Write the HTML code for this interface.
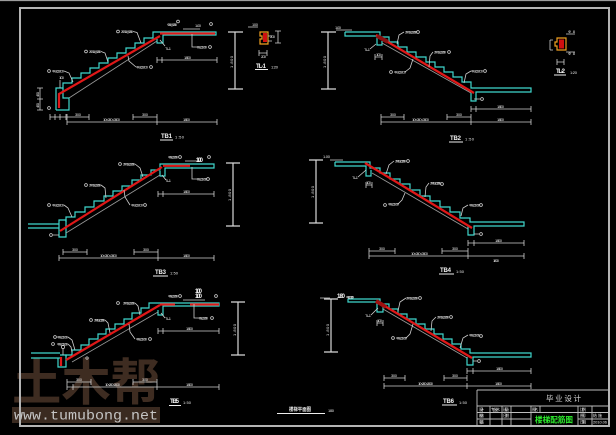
<!DOCTYPE html>
<html><head><meta charset="utf-8">
<style>
html,body{margin:0;padding:0;background:#000;}
svg{display:block}
.c{fill:none;stroke:#3fd6cc;stroke-width:1.2}
.r{fill:none;stroke:#e01818;stroke-width:2.2}
.g{fill:none;stroke:#9a9a9a;stroke-width:0.8}
.d{fill:none;stroke:#cfcfcf;stroke-width:0.8}
.e{fill:none;stroke:#d8d8d8;stroke-width:1.2}
.lc{fill:none;stroke:#dddddd;stroke-width:0.7}
.t{font-family:"Liberation Sans",sans-serif;font-size:4px;fill:#e6e6e6}
.ti{font-family:"Liberation Sans",sans-serif;font-size:6px;fill:#f4f4f4;font-weight:bold}
.o{fill:none;stroke:#f0a020;stroke-width:1.2}
</style></head><body>
<svg width="616" height="435" viewBox="0 0 616 435" xmlns="http://www.w3.org/2000/svg">
<rect width="616" height="435" fill="#000"/>

<!-- watermark -->
<text x="12" y="400" font-family="'Liberation Sans','Noto Sans CJK SC',sans-serif" font-weight="bold" font-size="50" fill="#3e2c21" textLength="148" lengthAdjust="spacingAndGlyphs">土木帮</text>
<rect x="12" y="407" width="148" height="16" fill="#3a2a20"/>
<text x="14" y="419.5" font-family="'Liberation Mono',monospace" font-size="14" fill="#c4c4c4" textLength="144" lengthAdjust="spacingAndGlyphs">www.tumubong.net</text>

<!-- frame -->
<line x1="0" y1="0.5" x2="616" y2="0.5" stroke="#9c9c9c" stroke-width="1.2"/>
<rect x="20" y="8" width="589" height="418" fill="none" stroke="#b4b4b4" stroke-width="2"/>

<!-- ================= TB1 ================= -->
<path class="c" d="M56,110 V88 H63 V83 H72 V78 H81 V73 H90 V68 H99 V63 H108 V58 H117 V53 H126 V48 H135 V43 H144 V38 H153 V32 H216 V35 H163 V43 H157 V39"/>
<path class="c" d="M63,88 V98 H69 V110 H56"/>
<path class="g" d="M69,98 L157,41"/>
<path class="r" d="M59,108 V94 L160,36"/>
<path class="r" d="M160,33.5 H215" stroke-width="2"/>
<path class="d" d="M50,117 H66 M50,114 V120 M55,114 V120 M60,114 V120 M66,114 V120 M67,117 H89 M67,114 V120 M89,114 V120 M133,117 H157 M133,114 V120 M157,114 V120 M67,122 H217 M67,119 V125 M157,119 V125 M217,119 V125 M157,60 H217 M157,57 V63 M162,57 V63 M217,57 V63 M40,88 V110 M37,88 H43 M37,99 H43 M37,110 H43"/>
<path class="e" d="M235,32 V89 M228,32 H243 M228,89 H243"/>
<path class="d" d="M133,31.5 L137,32.5 L141,43 M101,51.5 L105,53 L108,62 M64,71 L69,73 L73,82 M136,67 L129,61 L128,56 M183,29 H200 M192,34 V47 H196 M160,40 L165,46 M60,80 V88"/>
<g class="lc"><circle cx="118" cy="31.5" r="1.4"/><circle cx="86" cy="51.5" r="1.4"/><circle cx="49" cy="71" r="1.4"/><circle cx="151" cy="67" r="1.4"/><circle cx="178" cy="21.5" r="1.4"/><circle cx="211" cy="24" r="1.4"/><circle cx="210" cy="47" r="1.4"/><circle cx="49" cy="108" r="1.4"/></g>
<text class="t" x="121" y="33" textLength="12">2Φ10@200</text>
<text class="t" x="89" y="53" textLength="12">2Φ10@200</text>
<text class="t" x="52" y="72.5" textLength="12">Φ8@200</text>
<text class="t" x="136" y="68.5" textLength="12">Φ8@200</text>
<text class="t" x="167" y="26" textLength="10">Φ8@200</text>
<text class="t" x="195" y="27" textLength="6">1.00</text>
<text class="t" x="196" y="48.5" textLength="11">Φ8@200</text>
<text class="t" x="165" y="50" textLength="6">TL-1</text>
<text class="t" x="59" y="79" textLength="5">100</text>
<text class="t" x="75" y="116" textLength="6">300</text>
<text class="t" x="142" y="116" textLength="6">300</text>
<text class="t" x="103" y="121" textLength="17">10×260=2600</text>
<text class="t" x="183" y="121" textLength="7">1800</text>
<text class="t" x="184" y="59" textLength="7">1800</text>
<text class="t" transform="translate(233,68) rotate(-90)" textLength="12">1.800</text>
<text class="t" transform="translate(39,97) rotate(-90)" textLength="5">450</text>
<text class="t" transform="translate(39,108) rotate(-90)" textLength="5">450</text>
<text class="ti" x="161" y="138" textLength="11">TB1</text>
<line x1="160" y1="140" x2="173" y2="140" stroke="#eee" stroke-width="1"/>
<text class="t" x="175" y="138.5" textLength="9">1:50</text>

<!-- TL-1 -->
<path class="o" d="M260,32 H268 V44 H260 V39 H262 V36 H260 Z"/>
<rect x="263" y="33" width="4" height="9" fill="#d01010"/>
<path class="d" d="M278,31 V43 M275,31 H281 M275,43 H281 M248,27 H258 M259,53 H267 M259,50 V56 M267,50 V56 M268,36 H272 M268,41 H272"/>
<text class="t" x="252" y="26" textLength="6">100</text>
<text class="t" x="270" y="38" textLength="5">200</text>
<text class="t" x="261" y="58" textLength="5">200</text>
<text class="ti" x="256" y="68" textLength="10">TL-1</text>
<line x1="255" y1="69.5" x2="268" y2="69.5" stroke="#eee" stroke-width="1"/>
<text class="t" x="271" y="68.5" textLength="7">1:20</text>

<!-- ================= TB2 ================= -->
<path class="c" d="M345,32 H380 V37 H389 V42 H398 V47 H407 V52 H416 V57 H426 V62 H435 V67 H444 V72 H453 V77 H462 V82 H471 V88 H531 V92 H476 V101 H471 V93"/>
<path class="c" d="M345,32 V36 H377 V45 H382 V41"/>
<path class="g" d="M382,43 L471,93"/>
<path class="r" d="M376,35 L474,93"/>
<path d="M377,36 L388,42" stroke="#8b1010" stroke-width="4"/>
<path class="d" d="M381,117 H404 M381,114 V120 M404,114 V120 M447,117 H471 M447,114 V120 M471,114 V120 M381,122 H531 M381,119 V125 M471,119 V125 M531,119 V125 M471,109 H531 M471,106 V112 M476,106 V112 M531,106 V112 M375,57 H382 M375,54 V60 M382,54 V60"/>
<path class="e" d="M328,32 V89 M321,32 H336 M321,89 H336"/>
<path class="d" d="M404,32 L399,35 L397,44 M433,52 L430,56 L429,67 M405,72 L410,68 L413,59 M471,71 L466,74 L464,83 M370,49 L376,44 M336,30 H352 M474,99 H480"/>
<g class="lc"><circle cx="418" cy="32" r="1.4"/><circle cx="449" cy="52" r="1.4"/><circle cx="391" cy="72" r="1.4"/><circle cx="485" cy="71" r="1.4"/><circle cx="482" cy="99" r="1.4"/></g>
<text class="t" x="335" y="29" textLength="6">1.00</text>
<text class="t" x="405" y="33.5" textLength="12">2Φ10@200</text>
<text class="t" x="434" y="53.5" textLength="12">2Φ10@200</text>
<text class="t" x="394" y="73.5" textLength="12">Φ8@200</text>
<text class="t" x="471" y="72.5" textLength="12">Φ8@200</text>
<text class="t" x="364" y="51" textLength="6">TL-1</text>
<text class="t" x="376" y="56" textLength="5">100</text>
<text class="t" x="390" y="116" textLength="6">300</text>
<text class="t" x="456" y="116" textLength="6">300</text>
<text class="t" x="412" y="121" textLength="17">10×260=2600</text>
<text class="t" x="497" y="121" textLength="7">1800</text>
<text class="t" x="497" y="108" textLength="7">1800</text>
<text class="t" transform="translate(326,68) rotate(-90)" textLength="12">1.800</text>
<text class="ti" x="450" y="140" textLength="11">TB2</text>
<line x1="449" y1="142" x2="463" y2="142" stroke="#eee" stroke-width="1"/>
<text class="t" x="465" y="140.5" textLength="9">1:50</text>

<!-- TL-2 -->
<path class="o" d="M557,38 H566 V50 H557 V46 H555 V42 H557 Z"/>
<rect x="559" y="39.5" width="5" height="9" fill="#d01010"/>
<path class="d" d="M550,40 V50 M550,40 H553 M550,50 H553 M566,34 H575 M566,52 H575 M557,62 H564 M557,59 V65 M564,59 V65"/>
<text class="t" x="568" y="33" textLength="7">Φ8</text>
<text class="t" x="568" y="55" textLength="7">Φ8</text>
<text class="ti" x="556" y="73" textLength="9">TL-2</text>
<line x1="554" y1="75" x2="566" y2="75" stroke="#eee" stroke-width="1"/>
<text class="t" x="570" y="74" textLength="7">1:20</text>

<!-- ================= TB3 ================= -->
<path class="c" d="M28,224 H59 M28,228 H59"/>
<path class="c" d="M59,220 H66 V237 H59 Z"/>
<path class="c" d="M66,222 V217 H75 V212 H85 V207 H94 V201 H104 V196 H113 V191 H122 V186 H132 V180 H141 V175 H151 V170 H160 V164 H214 V168 H165 V176 H160 V171"/>
<path class="g" d="M66,233 L160,175"/>
<path class="r" d="M60,231 L162,167" stroke-width="2.8"/>
<path class="r" d="M163,165.8 H190" stroke-width="1.6"/>
<path class="d" d="M158,194 H214 M158,191 V197 M163,191 V197 M214,191 V197 M63,252 H87 M63,249 V255 M87,249 V255 M134,252 H158 M134,249 V255 M158,249 V255 M59,258 H214 M59,255 V261 M158,255 V261 M214,255 V261"/>
<path class="e" d="M233,163 V226 M226,163 H240 M226,226 H240"/>
<path class="d" d="M135,164 L140,168 L143,177 M101,185 L105,188 L106,198 M64,205 L68,208 L72,217 M130,205 L125,197 L124,190 M185,161 H200 M192,167 V179 H196 M162,175 L166,180 M53,235 H59"/>
<g class="lc"><circle cx="120" cy="164" r="1.4"/><circle cx="86" cy="185" r="1.4"/><circle cx="49" cy="205" r="1.4"/><circle cx="145" cy="205" r="1.4"/><circle cx="180" cy="157" r="1.4"/><circle cx="209" cy="157" r="1.4"/><circle cx="208" cy="179" r="1.4"/><circle cx="51" cy="235" r="1.4"/></g>
<text class="t" x="123" y="165.5" textLength="12">2Φ10@200</text>
<text class="t" x="89" y="186.5" textLength="12">2Φ10@200</text>
<text class="t" x="52" y="206.5" textLength="12">Φ8@200</text>
<text class="t" x="131" y="206.5" textLength="12">Φ8@200</text>
<text class="t" x="168" y="158.5" textLength="10">Φ8@200</text>
<text class="ti" x="196" y="162" textLength="7" font-size="5">1.00</text>
<text class="t" x="196" y="180.5" textLength="11">Φ8@200</text>
<text class="t" x="165" y="182" textLength="6">TL-1</text>
<text class="t" x="183" y="193" textLength="7">1800</text>
<text class="t" x="72" y="251" textLength="6">300</text>
<text class="t" x="143" y="251" textLength="6">300</text>
<text class="t" x="100" y="257" textLength="17">10×260=2600</text>
<text class="t" x="183" y="257" textLength="7">1800</text>
<text class="t" transform="translate(231,201) rotate(-90)" textLength="12">1.800</text>
<text class="ti" x="155" y="274" textLength="11">TB3</text>
<line x1="153" y1="276" x2="168" y2="276" stroke="#eee" stroke-width="1"/>
<text class="t" x="170" y="274.5" textLength="8">1:50</text>

<!-- ================= TB4 ================= -->
<path class="c" d="M335,162 H370 V168 H380 V173 H390 V179 H400 V184 H410 V190 H420 V196 H430 V201 H440 V207 H450 V212 H460 V218 H470 V222 H524 V226 H474 V235 H468 V226"/>
<path class="c" d="M335,162 V166 H366 V176 H371 V170"/>
<path class="g" d="M372,173 L468,229"/>
<path class="r" d="M365,163 L472,228" stroke-width="3.4"/>
<path class="d" d="M468,243 H524 M468,240 V246 M474,240 V246 M524,240 V246 M369,251 H395 M369,248 V254 M395,248 V254 M442,251 H468 M442,248 V254 M468,248 V254 M369,256 H524 M369,253 V259 M468,253 V259 M524,253 V259 M366,185 H372 M366,182 V188 M372,182 V188"/>
<path class="e" d="M316,160 V223 M309,160 H323 M309,223 H323"/>
<path class="d" d="M394,161 L389,165 L386,174 M429,183 L426,187 L425,197 M398,204 L402,200 L405,193 M468,205 L463,208 L461,216 M358,177 L366,170 M330,160 H343 M474,234 H479"/>
<g class="lc"><circle cx="408" cy="161" r="1.4"/><circle cx="442" cy="184" r="1.4"/><circle cx="385" cy="205" r="1.4"/><circle cx="481" cy="205" r="1.4"/><circle cx="481" cy="234" r="1.4"/></g>
<text class="t" x="323" y="158" textLength="7">1.00</text>
<text class="t" x="395" y="162.5" textLength="11">2Φ10@200</text>
<text class="t" x="430" y="184.5" textLength="11">2Φ10@200</text>
<text class="t" x="388" y="205.5" textLength="11">Φ8@200</text>
<text class="t" x="469" y="206.5" textLength="11">Φ8@200</text>
<text class="t" x="352" y="179" textLength="6">TL-1</text>
<text class="t" x="366" y="184" textLength="5">100</text>
<text class="t" x="495" y="242" textLength="7">1800</text>
<text class="t" x="379" y="250" textLength="6">300</text>
<text class="t" x="452" y="250" textLength="6">300</text>
<text class="t" x="411" y="255" textLength="17">10×260=2600</text>
<text class="t" x="493" y="262" textLength="6">1800</text>
<text class="t" transform="translate(314,198) rotate(-90)" textLength="12">1.800</text>
<text class="ti" x="440" y="272" textLength="11">TB4</text>
<line x1="439" y1="274" x2="454" y2="274" stroke="#eee" stroke-width="1"/>
<text class="t" x="456" y="273" textLength="8">1:50</text>

<!-- ================= TB5 ================= -->
<path class="c" d="M31,353 H60 M31,358 H60"/>
<path class="c" d="M60,355 H66 V367 H58 V358"/>
<path class="c" d="M66,357 V355 H72 V350 H81 V345 H89 V339 H98 V334 H106 V329 H115 V324 H124 V319 H132 V313 H141 V308 H149 V303 H219 V306 H163 V315 H158 V310"/>
<path class="g" d="M72,362 L158,312"/>
<path class="r" d="M66,360 L160,305" stroke-width="2.4"/>
<path class="r" d="M61,357 V366 M160,304.5 H175 M190,304.5 H219" stroke-width="2"/>
<path class="d" d="M158,331 H219 M158,328 V334 M163,328 V334 M219,328 V334 M67,382 H91 M67,379 V385 M91,379 V385 M133,382 H157 M133,379 V385 M157,379 V385 M67,387 H219 M67,384 V390 M73,384 V390 M157,384 V390 M219,384 V390"/>
<path class="e" d="M238,302 V355 M231,302 H245 M231,355 H245"/>
<path class="d" d="M135,303 L138,306 L140,315 M105,320 L108,323 L110,333 M68,337 L72,340 L75,350 M68,344 L71,347 L72,352 M135,339 L130,332 L129,324 M194,304 V318 H198 M161,313 L165,318 M183,300 H205 M63,349 V355"/>
<g class="lc"><circle cx="118" cy="303" r="1.4"/><circle cx="91" cy="320" r="1.4"/><circle cx="55" cy="337" r="1.4"/><circle cx="53" cy="344" r="1.4"/><circle cx="150" cy="339" r="1.4"/><circle cx="212" cy="318" r="1.4"/><circle cx="180" cy="296" r="1.4"/><circle cx="216" cy="296" r="1.4"/><circle cx="63" cy="347" r="1.6"/><circle cx="87" cy="358" r="1.2"/></g>
<text class="t" x="123" y="304.5" textLength="12">2Φ10@200</text>
<text class="t" x="94" y="321.5" textLength="11">2Φ10@200</text>
<text class="t" x="57" y="338.5" textLength="11">Φ8@200</text>
<text class="t" x="57" y="345.5" textLength="11">Φ8@200</text>
<text class="t" x="136" y="340.5" textLength="11">Φ8@200</text>
<text class="t" x="198" y="319.5" textLength="10">Φ8@200</text>
<text class="t" x="168" y="297.5" textLength="10">Φ8@200</text>
<text class="ti" x="195" y="293" textLength="7" font-size="4.5">1.00</text>
<text class="ti" x="195" y="298" textLength="7" font-size="4.5">1.00</text>
<text class="t" x="165" y="320" textLength="6">TL-1</text>
<text class="t" x="186" y="330" textLength="7">1800</text>
<text class="t" x="76" y="381" textLength="6">300</text>
<text class="t" x="142" y="381" textLength="6">300</text>
<text class="t" x="105" y="386" textLength="15">10×260=2600</text>
<text class="t" x="186" y="386" textLength="7">1800</text>
<text class="t" transform="translate(236,336) rotate(-90)" textLength="12">1.800</text>
<text class="ti" x="170" y="403" textLength="9">TB5</text>
<line x1="169" y1="405.5" x2="181" y2="405.5" stroke="#eee" stroke-width="1"/>
<text class="t" x="183" y="404" textLength="8">1:50</text>

<!-- ================= TB6 ================= -->
<path class="c" d="M348,299 H380 V304 H389 V309 H398 V314 H407 V319 H416 V324 H425 V329 H434 V334 H443 V339 H452 V344 H461 V349 H470 V353 H531 V357 H473 V365 H467 V357"/>
<path class="c" d="M348,299 V302 H377 V312 H383 V306"/>
<path class="g" d="M383,309 L467,358"/>
<path class="r" d="M378,302 L472,358" stroke-width="2.4"/>
<path d="M376,301 L386,307" stroke="#a01010" stroke-width="4"/>
<path class="d" d="M467,371 H531 M467,368 V374 M473,368 V374 M531,368 V374 M384,378 H405 M384,375 V381 M405,375 V381 M444,378 H467 M444,375 V381 M467,375 V381 M384,386 H531 M384,383 V389 M467,383 V389 M531,383 V389 M377,323 H383 M377,320 V326 M383,320 V326"/>
<path class="e" d="M331,299 V352 M324,299 H338 M324,352 H338"/>
<path class="d" d="M406,298 L400,302 L398,311 M436,317 L432,321 L431,331 M406,338 L410,334 L413,324 M468,335 L463,338 L460,348 M371,315 L378,308 M320,298 H330 M473,361 H477"/>
<g class="lc"><circle cx="420" cy="298" r="1.4"/><circle cx="451" cy="317" r="1.4"/><circle cx="393" cy="338" r="1.4"/><circle cx="481" cy="336" r="1.4"/><circle cx="479" cy="361" r="1.4"/></g>
<text class="ti" x="337" y="298" textLength="8">1.80</text>
<text class="t" x="346" y="298.5" textLength="8">Φ8@200</text>
<text class="t" x="406" y="299.5" textLength="12">2Φ10@200</text>
<text class="t" x="437" y="318.5" textLength="12">2Φ10@200</text>
<text class="t" x="396" y="339.5" textLength="11">Φ8@200</text>
<text class="t" x="469" y="336.5" textLength="11">Φ8@200</text>
<text class="t" x="365" y="317" textLength="6">TL-1</text>
<text class="t" x="377" y="322" textLength="5">100</text>
<text class="t" x="496" y="370" textLength="7">1800</text>
<text class="t" x="391" y="377" textLength="6">300</text>
<text class="t" x="452" y="377" textLength="6">300</text>
<text class="t" x="418" y="385" textLength="15">10×260=2600</text>
<text class="t" x="495" y="385" textLength="7">1800</text>
<text class="t" transform="translate(329,336) rotate(-90)" textLength="12">1.800</text>
<text class="ti" x="443" y="403" textLength="11">TB6</text>
<line x1="442" y1="405" x2="457" y2="405" stroke="#eee" stroke-width="1"/>
<text class="t" x="459" y="404" textLength="8">1:50</text>

<!-- bottom center title -->
<text x="289" y="411" font-family="'Liberation Sans','Noto Sans CJK SC',sans-serif" font-size="5" font-weight="bold" fill="#f0f0f0" textLength="22" lengthAdjust="spacingAndGlyphs">楼梯平面图</text>
<line x1="277" y1="413.5" x2="325" y2="413.5" stroke="#eee" stroke-width="1"/>
<text class="t" x="328" y="412" textLength="6">1:50</text>

<!-- title block -->
<path d="M477,390 H609 M477,390 V426 M477,406 H609 M477,412.5 H609 M477,419 H531 M578,419 H609 M490,406 V426 M502,406 V426 M511,406 V426 M531,406 V426 M540,406 V412.5 M578,406 V426 M592,406 V426" stroke="#bdbdbd" stroke-width="0.9" fill="none"/>
<text x="546" y="401" font-family="'Liberation Sans','Noto Sans CJK SC',sans-serif" font-size="7.5" fill="#d0d0d0" textLength="35" lengthAdjust="spacing">毕业设计</text>
<text class="t" x="479" y="411" textLength="5" font-size="3">设计</text>
<text class="t" x="491" y="411" textLength="9" font-size="3">专业土木</text>
<text class="t" x="503" y="411" textLength="6" font-size="3">班级</text>
<text class="t" x="479" y="417" textLength="5" font-size="3">校核</text>
<text class="t" x="503" y="417" textLength="6" font-size="3">日期</text>
<text class="t" x="479" y="423.5" textLength="5" font-size="3">审核</text>
<text class="t" x="532" y="411" textLength="6" font-size="3">图名</text>
<text class="t" x="580" y="411" textLength="6" font-size="3">比例</text>
<text class="t" x="580" y="417" textLength="6" font-size="3">图号</text>
<text class="t" x="593" y="417" textLength="9" font-size="3">结施</text>
<text class="t" x="580" y="423.5" textLength="6" font-size="3">日期</text>
<text class="t" x="593" y="423.5" textLength="14" font-size="3">2010.06</text>
<text x="535" y="422.5" font-family="'Liberation Sans','Noto Sans CJK SC',sans-serif" font-size="8" font-weight="bold" fill="#2ef02e" textLength="38" lengthAdjust="spacingAndGlyphs">楼梯配筋图</text>
</svg>
</body></html>
